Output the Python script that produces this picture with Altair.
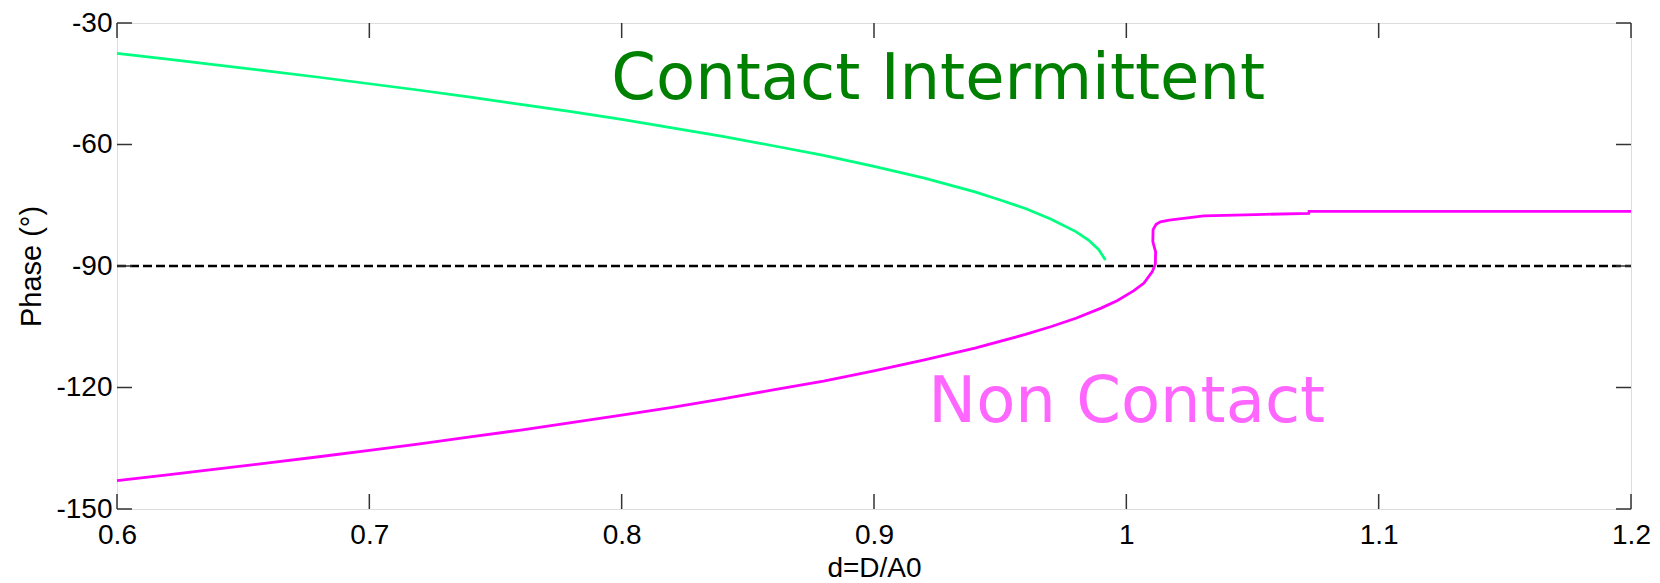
import altair as alt
import pandas as pd

# Phase curves vs normalised distance d = D/A0
green_d = [0.600, 0.620, 0.640, 0.660, 0.680, 0.700, 0.720, 0.740, 0.760, 0.780,
           0.800, 0.820, 0.840, 0.860, 0.880, 0.900, 0.920, 0.940, 0.950, 0.960,
           0.970, 0.980, 0.985, 0.989, 0.9917]
green_phase = [-37.5, -38.9, -40.4, -41.9, -43.4, -45.0, -46.6, -48.3, -50.1, -51.9,
               -53.8, -55.9, -58.0, -60.3, -62.7, -65.4, -68.3, -71.7, -73.7, -75.8,
               -78.4, -81.5, -83.6, -85.9, -88.5]

magenta_d = [0.600, 0.620, 0.640, 0.660, 0.680, 0.700, 0.720, 0.740, 0.760, 0.780,
             0.800, 0.820, 0.840, 0.860, 0.880, 0.900, 0.920, 0.940, 0.960, 0.970,
             0.980, 0.990, 0.9965, 1.003, 1.007, 1.0103, 1.0115, 1.0116, 1.0105,
             1.0106, 1.0118, 1.0135, 1.0170, 1.0259, 1.0307, 1.0512, 1.0723, 1.0724,
             1.200]
magenta_phase = [-143.0, -141.6, -140.1, -138.6, -137.1, -135.5, -133.9, -132.2, -130.5,
                 -128.7, -126.8, -124.9, -122.8, -120.6, -118.4, -115.9, -113.2, -110.3,
                 -106.9, -105.0, -102.9, -100.4, -98.5, -96.1, -94.2, -91.4, -89.5,
                 -86.5, -84.0, -81.0, -79.7, -79.1, -78.7, -78.0, -77.6, -77.3, -77.0,
                 -76.5, -76.5]

x_ticks = [0.6, 0.7, 0.8, 0.9, 1.0, 1.1, 1.2]
y_ticks = [-150, -120, -90, -60, -30]

labels = ["Contact Intermittent", "Non Contact"]
label_d = [0.7959, 0.9215]
label_phase = [-48.7, -128.6]
label_colors = ["#008000", "#FF66FF"]

W, H = 1514, 486
FONT = "Liberation Sans"
AXIS_GRAY = "#333333"

green = pd.DataFrame({"d": green_d, "phase": green_phase, "i": range(len(green_d))})
magenta = pd.DataFrame({"d": magenta_d, "phase": magenta_phase, "i": range(len(magenta_d))})
xt = pd.DataFrame({"d": x_ticks})
yt = pd.DataFrame({"phase": y_ticks})
lab = pd.DataFrame({"text": labels, "d": label_d, "phase": label_phase, "c": label_colors})

xscale = alt.Scale(domain=[0.6, 1.2], nice=False, zero=False)
yscale = alt.Scale(domain=[-150, -30], nice=False, zero=False)

X = alt.X("d:Q", scale=xscale, title="d=D/A0",
          axis=alt.Axis(values=x_ticks, labelExpr="toString(datum.value)",
                        ticks=False, tickSize=0, grid=False, domain=False,
                        labelFont=FONT, labelFontSize=28, labelColor="black",
                        labelPadding=12, titleFont=FONT, titleFontSize=28,
                        titleFontWeight="normal", titleColor="black",
                        titlePadding=5, labelFlush=False))
Y = alt.Y("phase:Q", scale=yscale, title="Phase (°)",
          axis=alt.Axis(values=y_ticks, labelExpr="toString(datum.value)",
                        ticks=False, tickSize=0, grid=False, domain=False,
                        labelFont=FONT, labelFontSize=28, labelColor="black",
                        labelPadding=5, titleFont=FONT, titleFontSize=29,
                        titleFontWeight="normal", titleColor="black",
                        titlePadding=9, labelFlush=False))

green_line = alt.Chart(green).mark_line(color="#00FF80", strokeWidth=2.7).encode(
    x=X, y=Y, order="i:Q")
magenta_line = alt.Chart(magenta).mark_line(color="#FF00FF", strokeWidth=2.8).encode(
    x=alt.X("d:Q", scale=xscale), y=alt.Y("phase:Q", scale=yscale), order="i:Q")

ref = alt.Chart(pd.DataFrame({"phase": [-90]})).mark_rule(
    color="black", strokeWidth=2.5, strokeDash=[9, 4]).encode(
    y=alt.Y("phase:Q", scale=yscale), x=alt.value(0), x2=alt.value(W))

# inward ticks on all four sides of the box
TL = 15
ticks_bottom = alt.Chart(xt).mark_rule(color=AXIS_GRAY, strokeWidth=1.5).encode(
    x=alt.X("d:Q", scale=xscale), y=alt.value(H), y2=alt.value(H - TL))
ticks_top = alt.Chart(xt).mark_rule(color=AXIS_GRAY, strokeWidth=1.5).encode(
    x=alt.X("d:Q", scale=xscale), y=alt.value(0), y2=alt.value(TL))
ticks_left = alt.Chart(yt).mark_rule(color=AXIS_GRAY, strokeWidth=1.5).encode(
    y=alt.Y("phase:Q", scale=yscale), x=alt.value(0), x2=alt.value(TL))
ticks_right = alt.Chart(yt).mark_rule(color=AXIS_GRAY, strokeWidth=1.5).encode(
    y=alt.Y("phase:Q", scale=yscale), x=alt.value(W), x2=alt.value(W - TL))

text = alt.Chart(lab).mark_text(font="DejaVu Sans", fontSize=64, align="left",
                                baseline="alphabetic").encode(
    x=alt.X("d:Q", scale=xscale), y=alt.Y("phase:Q", scale=yscale),
    text="text:N", color=alt.Color("c:N", scale=None))

chart = alt.layer(
    ref, green_line, magenta_line, text,
    ticks_bottom, ticks_top, ticks_left, ticks_right
).properties(
    width=W, height=H,
    autosize=alt.AutoSizeParams(type="none"),
    padding={"left": 117, "top": 23, "right": 29, "bottom": 74},
).configure_view(
    stroke=AXIS_GRAY, strokeWidth=1.5
).configure(background="white")

chart.save("out.html", embed_options={"renderer": "svg", "actions": False})
